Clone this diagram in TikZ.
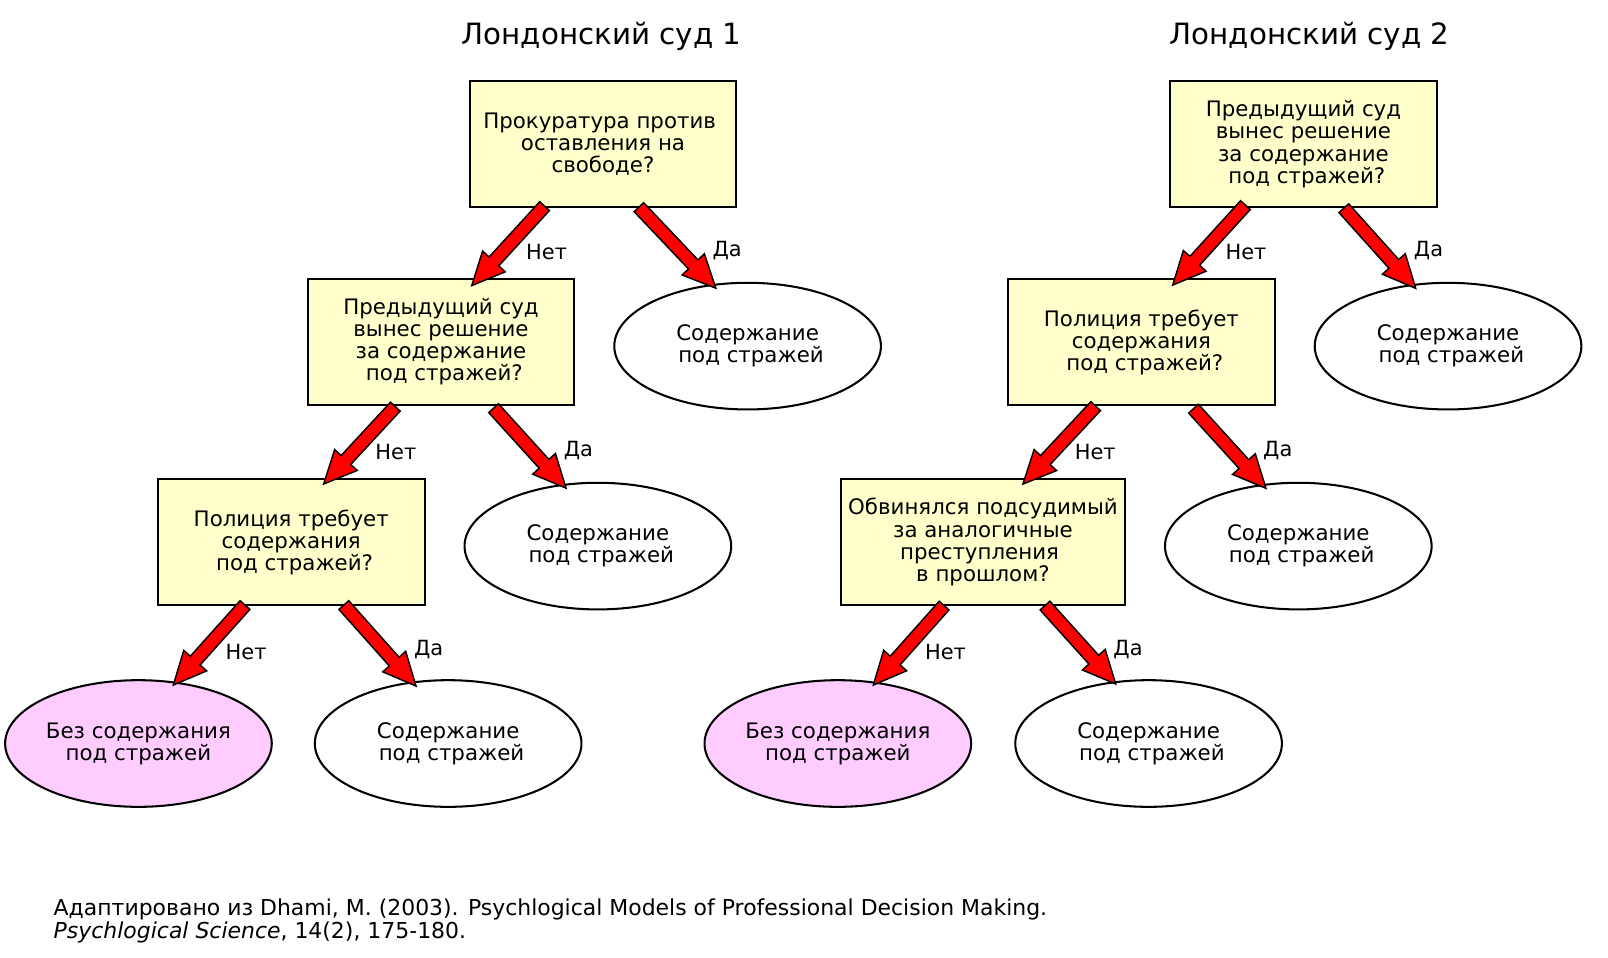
\documentclass[tikz,border=0pt]{standalone}
\usepackage{fontspec}
\setmainfont{DejaVu Sans}
\usetikzlibrary{calc,shapes.geometric}
\definecolor{boxfill}{HTML}{FFFFCC}
\definecolor{pinkfill}{HTML}{FFCCFF}
\definecolor{arrred}{HTML}{FF0000}
\newcommand\qfont{\fontsize{10.4}{10.75}\selectfont}
\newcommand\lfont{\fontsize{10.2}{11}\selectfont}
\newcommand\ffont{\fontsize{10.7}{11}\selectfont}
\newcommand\hfont{\fontsize{14.3}{17}\selectfont}
\tikzset{
 qbox/.style={rectangle, draw=black, line width=1pt, fill=boxfill, minimum width=130pt, minimum height=61.5pt, align=center, inner sep=0pt, font=\qfont},
 yesell/.style={ellipse, draw=black, line width=1pt, fill=white, minimum width=130pt, minimum height=61.75pt, align=center, inner sep=0pt, font=\qfont},
 noell/.style={yesell, fill=pinkfill},
 redarrow/.style={draw=black, line width=0.7pt, fill=arrred, line join=miter},
 lbl/.style={anchor=base, inner sep=0pt, font=\lfont},
 ttl/.style={anchor=base, inner sep=0pt, font=\hfont},
 foot/.style={anchor=base west, inner sep=0pt, font=\ffont},
}
\newcommand\barrow[2]{%
  \coordinate (hb) at ($(#2)!16pt!(#1)$);
  \draw[redarrow] ($(#1)!3.2pt!90:(#2)$) -- ($(hb)!3.2pt!-90:(#1)$) -- ($(hb)!7.5pt!-90:(#1)$) -- (#2) -- ($(hb)!7.5pt!90:(#1)$) -- ($(hb)!3.2pt!90:(#1)$) -- ($(#1)!3.2pt!-90:(#2)$) -- cycle;}
\begin{document}
\begin{tikzpicture}[x=0.5pt,y=-0.5pt]
\fill[white] (0,0) rectangle (1568,934);
\useasboundingbox (0,0) rectangle (1568,934);

% titles
\node[ttl] (T1) at (586.5,43) {Лондонский суд 1};
\node[ttl] (T2) at (1277,43) {Лондонский суд 2};

% tree 1
\node[qbox] (A1) at (588,140.5) {Прокуратура против\ \mbox{}\\оставления на\\свободе?};
\node[qbox] (B1) at (430,333.5) {Предыдущий суд\\вынес решение\\за содержание\\\mbox{}\ под стражей?};
\node[yesell] (Y1) at (729,337.5) {Содержание\\\mbox{}\ под стражей};
\node[qbox] (C1) at (284,528.5) {Полиция требует\\содержания\\\mbox{}\ под стражей?};
\node[yesell] (Y2) at (583,532.5) {Содержание\\\mbox{}\ под стражей};
\node[noell] (N1) at (135,725) {Без содержания\\под стражей};
\node[yesell] (Y3) at (437,725) {Содержание\\\mbox{}\ под стражей};

% tree 2
\node[qbox] (A2) at (1271,140.5) {Предыдущий суд\\вынес решение\\за содержание\\\mbox{}\ под стражей?};
\node[qbox] (B2) at (1113,333.5) {Полиция требует\\содержания\\\mbox{}\ под стражей?};
\node[yesell] (Y4) at (1412,337.5) {Содержание\\\mbox{}\ под стражей};
\node[qbox, minimum width=138.5pt] (C2) at (958.5,528.5) {Обвинялся подсудимый\\за аналогичные\\преступления\ \mbox{}\\в прошлом?};
\node[yesell] (Y5) at (1266,532.5) {Содержание\\\mbox{}\ под стражей};
\node[noell] (N2) at (817,725) {Без содержания\\под стражей};
\node[yesell] (Y6) at (1120,725) {Содержание\\\mbox{}\ под стражей};

% arrow end points
\coordinate (s1) at ($(A1.south)+(-57,-2)$);  \coordinate (e1) at ($(B1.north)+(30,7.5)$);
\coordinate (s2) at ($(A1.south)+(35,-1)$);   \coordinate (e2) at ($(Y1.center)+(-31,-56.5)$);
\coordinate (s3) at ($(B1.south)+(-44.5,0.5)$); \coordinate (e3) at ($(C1.north)+(31.6,6)$);
\coordinate (s4) at ($(B1.south)+(51.3,2)$);  \coordinate (e4) at ($(Y2.center)+(-31,-56.5)$);
\coordinate (s5) at ($(C1.south)+(-45.1,-1)$); \coordinate (e5) at ($(N1.center)+(34,-57)$);
\coordinate (s6) at ($(C1.south)+(51.3,-1)$); \coordinate (e6) at ($(Y3.center)+(-31.3,-56)$);
\coordinate (s7) at ($(A2.south)+(-56.6,-3)$); \coordinate (e7) at ($(B2.north)+(30.5,7)$);
\coordinate (s8) at ($(A2.south)+(39.4,0)$);  \coordinate (e8) at ($(Y4.center)+(-31.5,-56.3)$);
\coordinate (s9) at ($(B2.south)+(-44.6,0)$);  \coordinate (e9) at ($(C2.north)+(39,6)$);
\coordinate (s10) at ($(B2.south)+(50.8,2.5)$); \coordinate (e10) at ($(Y5.center)+(-31.5,-56.3)$);
\coordinate (s11) at ($(C2.south)+(-37.9,-0.5)$); \coordinate (e11) at ($(N2.center)+(34.6,-57)$);
\coordinate (s12) at ($(C2.south)+(60.5,-0.5)$); \coordinate (e12) at ($(Y6.center)+(-32,-58)$);

\barrow{s1}{e1}
\barrow{s2}{e2}
\barrow{s3}{e3}
\barrow{s4}{e4}
\barrow{s5}{e5}
\barrow{s6}{e6}
\barrow{s7}{e7}
\barrow{s8}{e8}
\barrow{s9}{e9}
\barrow{s10}{e10}
\barrow{s11}{e11}
\barrow{s12}{e12}

% labels
\node[lbl] (L1) at (533,253.5) {Нет};
\node[lbl] (L2) at (709,250.5) {Да};
\node[lbl] (L3) at (386,448.5) {Нет};
\node[lbl] (L4) at (564,445.5) {Да};
\node[lbl] (L5) at (240,643.5) {Нет};
\node[lbl] (L6) at (418,639.5) {Да};
\node[lbl] (L7) at (1215,253.5) {Нет};
\node[lbl] (L8) at (1393,250.5) {Да};
\node[lbl] (L9) at (1068,448.5) {Нет};
\node[lbl] (L10) at (1246,445.5) {Да};
\node[lbl] (L11) at (922,643.5) {Нет};
\node[lbl] (L12) at (1100,639.5) {Да};

% footer
\node[foot] (F1) at (52,893) {Адаптировано из Dhami, M. (2003). Psychlogical Models of Professional Decision Making.};
\node[foot] (F2) at (52,915) {\textit{Psychlogical Science}, 14(2), 175-180.};
\end{tikzpicture}
\end{document}
